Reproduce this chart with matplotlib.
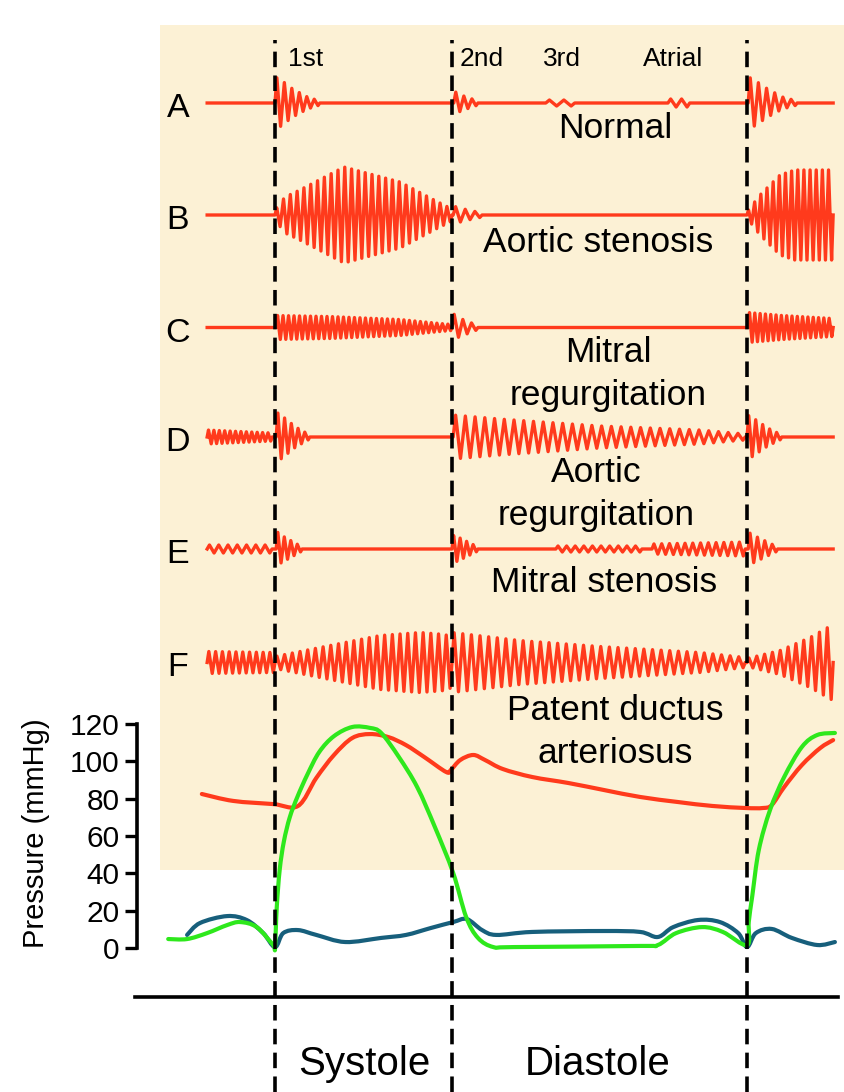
import numpy as np
import matplotlib.pyplot as plt
from matplotlib.patches import Rectangle, PathPatch
from matplotlib.path import Path

plt.rcParams["font.family"] = ["Liberation Sans", "DejaVu Sans"]

# time in ms: 0 = first heart sound, 300 = second, 800 = next first sound
T_START, T_END = -115, 946
EVENTS = [0, 300, 800]

# sound traces: (start ms, end ms, half-waves, envelope times, envelope amplitudes)
TRACE_A = [
    (0, 76, 12, [0, 8, 30, 55, 76], [26, 24, 14, 6, 2]),
    (303, 344, 6, [303, 315, 344], [12, 8, 2]),
    (459, 508, 4, [459, 508], [3, 3]),
    (666, 703, 4, [666, 703], [4, 4]),
    (802, 885, 12, [802, 810, 835, 860, 885], [26, 24, 14, 6, 2]),
]
TRACE_B = [
    (0, 300, 52, [0, 17, 42, 117, 212, 273, 300], [5, 18, 25, 48, 33, 14, 6]),
    (302, 351, 6, [302, 320, 351], [9, 6, 2]),
    (800, 946, 28, [800, 822, 856, 881, 946], [3, 20, 40, 45, 45]),
]
TRACE_C = [
    (2, 300, 64, [2, 93, 212, 280, 300], [12, 11, 8, 4, 3]),
    (300, 344, 6, [300, 310, 344], [15, 10, 2]),
    (802, 946, 32, [802, 860, 946], [15, 12, 9]),
]
TRACE_D = [
    (-115, -5, 24, [-115, -5], [7, 4]),
    (2, 59, 10, [2, 10, 35, 59], [25, 22, 10, 2]),
    (302, 797, 60, [302, 381, 551, 720, 797], [22, 18, 11, 7, 3]),
    (800, 859, 10, [800, 808, 835, 859], [22, 20, 9, 2]),
]
TRACE_E = [
    (-115, -5, 14, [-115, -5], [4, 4]),
    (2, 46, 8, [2, 10, 46], [18, 14, 2]),
    (300, 344, 8, [300, 310, 344], [14, 12, 2]),
    (476, 622, 20, [476, 622], [3, 3]),
    (639, 797, 24, [639, 797], [5, 7]),
    (802, 852, 8, [802, 810, 852], [17, 14, 2]),
]
TRACE_F = [
    (-115, 0, 20, [-115, 0], [11, 10]),
    (0, 300, 46, [0, 76, 178, 246, 288, 300], [6, 15, 27, 30, 28, 25]),
    (300, 797, 68, [300, 415, 551, 720, 797], [30, 22, 16, 10, 5]),
    (800, 946, 22, [800, 856, 907, 946], [4, 12, 25, 38]),
]
TRACES = [TRACE_A, TRACE_B, TRACE_C, TRACE_D, TRACE_E, TRACE_F]
TRACE_OFFSETS = [0, -112, -224.5, -334, -446, -559.5]
TRACE_LETTERS = ["A", "B", "C", "D", "E", "F"]
TRACE_NAMES = [["Normal"], ["Aortic stenosis"], ["Mitral", "regurgitation"],
               ["Aortic", "regurgitation"], ["Mitral stenosis"],
               ["Patent ductus", "arteriosus"]]
SOUND_NAMES = ["1st", "2nd", "3rd", "Atrial"]
PHASES = ["Systole", "Diastole"]

# pressure curves (ms, mmHg)
AORTA_T = [-124, -71, -3, 39, 70, 100, 131, 161, 192, 222, 253, 290, 298,
           314, 336, 356, 386, 436, 497, 558, 619, 683, 741, 797, 827, 842,
           863, 893, 924, 946]
AORTA_P = [82.5, 78.8, 77.1, 76.1, 91.1, 103.4, 112.5, 114.6, 113.0, 108.7,
           102.3, 94.3, 95.4, 100.7, 103.4, 100.7, 95.9, 91.6, 88.4, 84.6,
           80.9, 78.2, 76.1, 75.0, 75.0, 76.6, 86.2, 98.0, 107.1, 111.4]
LV_T = [-181, -149, -115, -81, -59, -31, -3, 0, 3, 8, 15, 25, 38, 55, 75,
        100, 131, 161, 180, 210, 241, 271, 302, 324, 344, 370, 405, 619, 649,
        680, 724, 759, 800, 803, 809, 820, 839, 863, 893, 919, 949]
LV_P = [4.8, 4.8, 8.0, 12.3, 13.9, 11.2, 1.6, 0.5, 22.0, 42.0, 57.0, 70.0,
        81.0, 93.0, 105.0, 113.5, 118.4, 117.9, 115.2, 102.3, 86.2, 64.8,
        40.2, 16.6, 5.4, 0.5, 0.5, 1.1, 1.6, 8.0, 11.2, 8.6, 1.5, 14.0, 28.0,
        52.5, 73.9, 91.6, 107.7, 114.1, 115.2]
LA_T = [-149, -127, -81, -48, -20, 0, 14, 39, 70, 119, 180, 222, 264, 302,
        325, 351, 375, 436, 558, 619, 649, 675, 717, 754, 785, 800, 815, 842,
        876, 919, 949]
LA_P = [7.0, 13.4, 17.1, 15.0, 8.0, 0.5, 8.0, 9.6, 7.0, 3.2, 5.4, 7.0, 10.7,
        13.9, 15.5, 9.6, 7.0, 8.6, 9.1, 8.6, 5.9, 11.2, 15.0, 13.9, 8.0, 0.5,
        8.0, 10.2, 5.4, 1.6, 3.2]
P_TICKS = [0, 20, 40, 60, 80, 100, 120]

RED = "#ff3a1c"
GREEN = "#2ee81c"
BLUE = "#175f7c"
BEIGE = "#fcf1d5"

W, H = 845, 1092
T0, T1 = -466.1, 966.1          # ms at left / right figure edge


def fx(px):
    return px / W


def fy(py):
    return 1 - py / H


def build_trace(bursts):
    ts, ys = [T_START], [0.0]
    for t0, t1, nh, et, ea in bursts:
        tt = t0 + (np.arange(nh) + 0.5) * (t1 - t0) / nh
        amp = np.interp(tt, et, ea)
        sgn = np.where(np.arange(nh) % 2 == 0, 1.0, -1.0)
        ts += [t0, *tt, t1]
        ys += [0.0, *(sgn * amp), 0.0]
    ts.append(T_END)
    ys.append(0.0)
    return np.array(ts), np.array(ys)


def smooth_path(xs, ys):
    # Catmull-Rom through the read points, drawn as cubic Bezier segments
    p = np.column_stack([xs, ys]).astype(float)
    verts, codes = [p[0]], [Path.MOVETO]
    n = len(p)
    for i in range(n - 1):
        p0 = p[max(i - 1, 0)]
        p1, p2 = p[i], p[i + 1]
        p3 = p[min(i + 2, n - 1)]
        verts += [p1 + (p2 - p0) / 6, p2 - (p3 - p1) / 6, p2]
        codes += [Path.CURVE4] * 3
    return Path(verts, codes)


fig = plt.figure(figsize=(W / 100, H / 100), dpi=100)
fig.patch.set_facecolor("white")
fig.patches.append(Rectangle((fx(160), fy(870)), fx(845) - fx(160),
                             fy(25) - fy(870), transform=fig.transFigure,
                             facecolor=BEIGE, edgecolor="none", zorder=-5))

# heart sounds
ax_s = fig.add_axes([0, fy(720), 1, 720 / H])
ax_s.set_xlim(T0, T1)
ax_s.set_ylim(103 - 720, 103)
ax_s.axis("off")
for bursts, off in zip(TRACES, TRACE_OFFSETS):
    t, y = build_trace(bursts)
    ax_s.plot(t, y + off, color=RED, lw=2.4, solid_joinstyle="round")

# pressures
ax_p = fig.add_axes([0, fy(997), 1, fy(705.33) - fy(997)])
ax_p.patch.set_alpha(0)
ax_p.set_xlim(T0, T1)
ax_p.set_ylim(-26.25, 130)
for xs, ys, col in [(AORTA_T, AORTA_P, RED), (LA_T, LA_P, BLUE),
                    (LV_T, LV_P, GREEN)]:
    ax_p.add_patch(PathPatch(smooth_path(xs, ys), fill=False, edgecolor=col,
                             lw=3.0, joinstyle="round", capstyle="round"))
for s in ("top", "right"):
    ax_p.spines[s].set_visible(False)
ax_p.spines["left"].set_position(("data", -233.9))
ax_p.spines["left"].set_bounds(0, 120)
ax_p.spines["bottom"].set_bounds(-237.3, 954.2)
for s in ("left", "bottom"):
    ax_p.spines[s].set_linewidth(2.6)
ax_p.set_xticks([])
ax_p.set_yticks(P_TICKS)
ax_p.tick_params(axis="y", direction="out", length=8.5, width=2.4,
                 labelsize=21.5, pad=4)
ax_p.set_ylabel("Pressure (mmHg)", fontsize=21)
ax_p.yaxis.set_label_coords(fx(50), (997 - 833) / (997 - 705.33))

# overlay: event lines and labels
ax_o = fig.add_axes([0, 0, 1, 1])
ax_o.patch.set_alpha(0)
ax_o.set_xlim(T0, T1)
ax_o.set_ylim(0, 1)
ax_o.axis("off")
for t in EVENTS:
    ax_o.axvline(t, ymin=0, ymax=fy(40), color="black", lw=2.6,
                 linestyle=(0, (4.3, 2.3)))

for letter, off in zip(TRACE_LETTERS, TRACE_OFFSETS):
    fig.text(fx(178), fy(103 - off + 14), letter, fontsize=24.5,
             ha="center", va="baseline")

name_x = [615, 598.5, 608, 596, 604, 615]
name_base = [[138.3], [251.7], [361.7, 405], [481.7, 525], [592.3],
             [720, 763.3]]
for lines, px, bases in zip(TRACE_NAMES, name_x, name_base):
    for line, py in zip(lines, bases):
        fig.text(fx(px), fy(py), line, fontsize=25.5, ha="center",
                 va="baseline")

for lab, px in zip(SOUND_NAMES, [288, 460, 543, 643]):
    fig.text(fx(px), fy(66), lab, fontsize=19, ha="left", va="baseline")

for lab, px in zip(PHASES, [364.5, 597.5]):
    fig.text(fx(px), fy(1075), lab, fontsize=29, ha="center", va="baseline")

fig.savefig("out.png", dpi=100, facecolor="white")
